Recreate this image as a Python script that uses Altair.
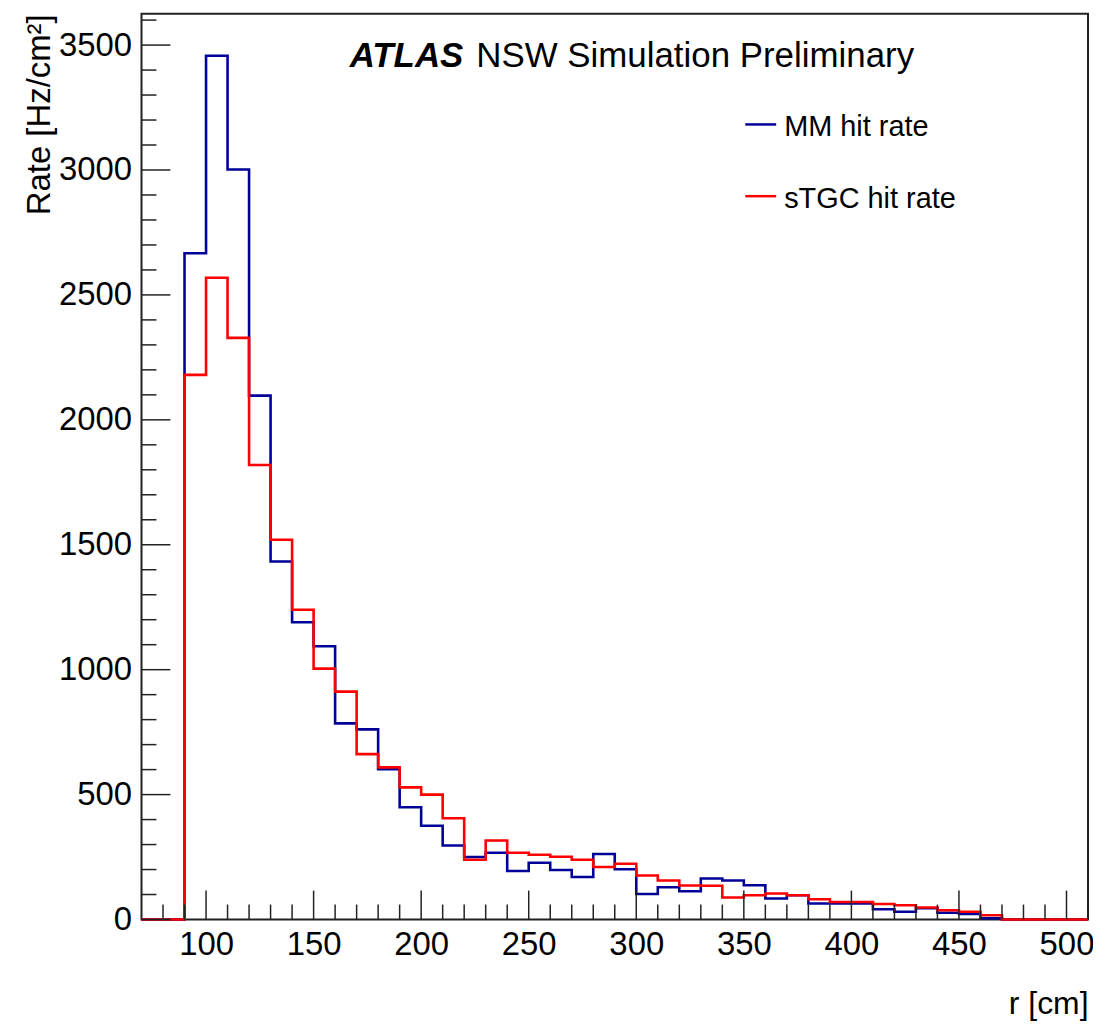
import altair as alt
import pandas as pd

# ---- data ----
bin_low = list(range(70, 510, 10))  # lower edges of 10 cm bins, 70..500
mm_rate = [0, 0, 2667, 3457, 3002, 2097, 1433, 1190, 1094, 785, 761, 602, 449, 375,
           296, 250, 267, 194, 227, 198, 170, 262, 201, 102, 129, 113, 164, 156, 137,
           84, 97, 64, 64, 64, 41, 31, 45, 27, 22, 5, 0, 0, 0, 0]
stgc_rate = [0, 0, 2180, 2569, 2328, 1819, 1520, 1240, 1004, 912, 662, 609, 529, 500,
             405, 239, 316, 267, 259, 251, 239, 210, 223, 176, 156, 136, 135, 88, 97,
             104, 97, 81, 70, 70, 62, 57, 48, 37, 31, 17, 0, 0, 0, 0]
series_names = ["MM hit rate", "sTGC hit rate"]
series_colors = ["#000099", "#ff0000"]
x_major = [100, 150, 200, 250, 300, 350, 400, 450, 500]
y_major = [0, 500, 1000, 1500, 2000, 2500, 3000, 3500]
x_minor = [v for v in range(80, 511, 10) if v not in x_major]
y_minor = [v for v in range(100, 3601, 100) if v not in y_major]

X_DOMAIN = [70, 510]
Y_DOMAIN = [0, 3625]
W, H = 950, 909
FONT = "Liberation Sans"

rows = []
for name, vals in zip(series_names, [mm_rate, stgc_rate]):
    for x, v in zip(bin_low, vals):
        rows.append({"series": name, "r": x, "rate": v})
    rows.append({"series": name, "r": bin_low[-1] + 10, "rate": vals[-1]})
hist = pd.DataFrame(rows)

xs = alt.Scale(domain=X_DOMAIN, nice=False, zero=False)
ys = alt.Scale(domain=Y_DOMAIN, nice=False, zero=False)

x_axis = alt.Axis(
    values=x_major, format="d", ticks=False, domain=False, grid=False, tickSize=0,
    labelFont=FONT, labelFontSize=33, labelColor="black", labelPadding=9,
    title="r [cm]", titleFont=FONT, titleFontSize=32, titleFontWeight="normal",
    titleColor="black", titleX=W, titleY=94, titleAlign="right",
    titleBaseline="alphabetic")
y_axis = alt.Axis(
    values=y_major, format="d", ticks=False, domain=False, grid=False, tickSize=0,
    labelFont=FONT, labelFontSize=33, labelColor="black", labelPadding=10,
    title="Rate [Hz/cm²]", titleFont=FONT, titleFontSize=33,
    titleFontWeight="normal", titleColor="black", titleX=-92, titleY=0,
    titleAlign="right", titleBaseline="alphabetic", titleAngle=270)

lines = alt.Chart(hist).mark_line(interpolate="step-after", strokeWidth=2.6).encode(
    x=alt.X("r:Q", scale=xs, axis=x_axis),
    y=alt.Y("rate:Q", scale=ys, axis=y_axis),
    color=alt.Color("series:N", scale=alt.Scale(domain=series_names, range=series_colors),
                    legend=None),
    order=alt.Order("r:Q"),
)

def xticks(vals, length):
    return alt.Chart(pd.DataFrame({"r": vals})).mark_rule(color="#222", strokeWidth=1.5).encode(
        x=alt.X("r:Q", scale=xs, axis=x_axis),
        y=alt.value(H), y2=alt.value(H - length))

def yticks(vals, length):
    return alt.Chart(pd.DataFrame({"rate": vals})).mark_rule(color="#222", strokeWidth=1.5).encode(
        y=alt.Y("rate:Q", scale=ys, axis=y_axis),
        x=alt.value(0), x2=alt.value(length))

one = alt.Data(values=[{"k": 1}])

title_bold = alt.Chart(one).mark_text(
    text="ATLAS", font=FONT, fontSize=35, fontWeight="bold", fontStyle="italic",
    align="left", baseline="alphabetic", color="black").encode(
    x=alt.value(209), y=alt.value(53))
title_rest = alt.Chart(one).mark_text(
    text="NSW Simulation Preliminary", font=FONT, fontSize=35,
    align="left", baseline="alphabetic", color="black").encode(
    x=alt.value(336), y=alt.value(53))

leg_layers = []
for i, (name, col) in enumerate(zip(series_names, series_colors)):
    ly = 111 + i * 72
    leg_layers.append(alt.Chart(one).mark_rule(color=col, strokeWidth=2.5).encode(
        x=alt.value(606), x2=alt.value(637), y=alt.value(ly)))
    leg_layers.append(alt.Chart(one).mark_text(
        text=name, font=FONT, fontSize=29, align="left", baseline="alphabetic",
        color="black").encode(x=alt.value(645), y=alt.value(ly + 12)))

chart = alt.layer(
    lines,
    xticks(x_major, 29), xticks(x_minor, 15),
    yticks(y_major, 29), yticks(y_minor, 15),
    title_bold, title_rest, *leg_layers,
).properties(
    width=W, height=H,
    padding={"left": 134, "top": 4, "right": 5, "bottom": 100},
    autosize=alt.AutoSizeParams(type="none"),
    background="white",
).configure_view(stroke="#222", strokeWidth=2)

chart.save("out.html", embed_options={"renderer": "svg", "actions": False})
